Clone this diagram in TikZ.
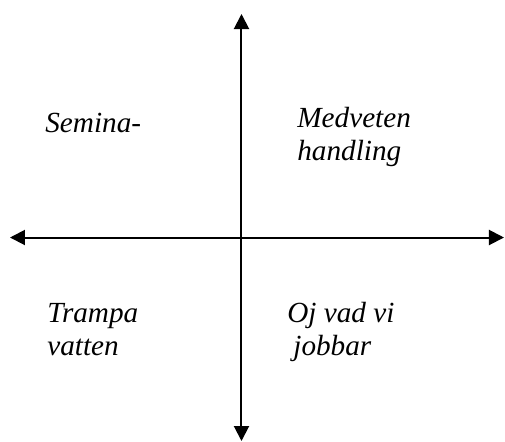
\documentclass[tikz,border=0pt]{standalone}
\usepackage{fontspec}
\setmainfont{Liberation Serif}
\usetikzlibrary{positioning, arrows.meta}

\begin{document}
\begin{tikzpicture}[
    x = 0.5pt, y = -0.5pt,
    > = {Triangle[length=7.5pt, width=7.5pt]},
    axis/.style={<->, line width=1pt},
    quad/.style={anchor=base west, align=left, inner sep=0pt,
        font=\fontsize{14.6}{16.3}\selectfont\itshape}
]
\useasboundingbox (0,0) rectangle (505,441);

% --- Axes ---
\coordinate (west) at (10,237.5);
\coordinate (east) at (504,237.5);
\coordinate (north) at (241.5,14);
\coordinate (south) at (241.5,441);

\draw[axis] (west) -- (east);
\draw[axis] (north) -- (south);

% --- Quadrant labels (base = last line) ---
\node[quad] (semina) at (45,132) {Semina-};
\node[quad] (medveten) at (297,160) {Medveten\\handling};
\node[quad] (trampa) at (47,355) {Trampa\\vatten};
\node[quad] (ojvad) at (287,355) {Oj vad vi\\\hspace{3pt}jobbar};

\end{tikzpicture}
\end{document}
